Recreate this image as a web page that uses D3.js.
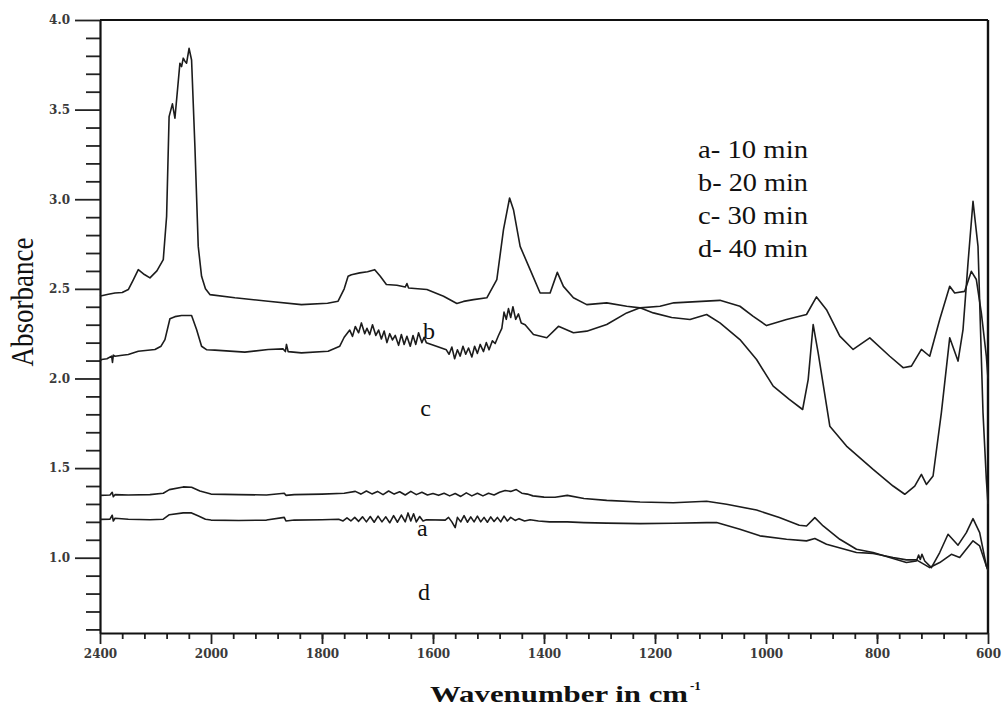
<!DOCTYPE html>
<html>
<head>
<meta charset="utf-8">
<script src="https://cdn.jsdelivr.net/npm/d3@7"></script>
<style>
  body { margin: 0; background: #fff; }
  svg { display: block; }
</style>
</head>
<body>
<svg id="mainSVG" width="1003" height="706"></svg>
<script>
// spectra: [wavenumber, absorbance]
var spectrumTop = [
  [2400,2.46],[2394,2.462],[2370,2.47],[2346,2.477],[2320,2.48],[2298,2.496],[2280,2.55],[2262,2.607],
  [2240,2.58],[2220,2.561],[2195,2.60],[2172,2.663],[2160,2.904],[2151,3.461],[2139,3.532],[2130,3.452],
  [2112,3.759],[2106,3.74],[2100,3.787],[2094,3.77],[2088,3.759],[2079,3.842],[2070,3.777],[2058,3.294],
  [2046,2.737],[2034,2.570],[2020,2.50],[2004,2.468],[1957,2.450],[1897,2.431],[1837,2.412],[1790,2.42],
  [1771,2.431],[1760,2.50],[1753,2.570],[1747,2.579],[1732,2.589],[1718,2.595],[1705,2.607],[1695,2.57],
  [1684,2.524],[1665,2.52],[1650,2.51],[1647,2.53],[1644,2.505],[1611,2.496],[1581,2.459],[1557,2.418],
  [1545,2.43],[1527,2.440],[1503,2.450],[1485,2.552],[1473,2.830],[1462,3.007],[1455,2.942],[1443,2.737],
  [1425,2.607],[1407,2.477],[1389,2.477],[1376,2.592],[1365,2.514],[1347,2.450],[1323,2.412],[1287,2.422],
  [1251,2.403],[1227,2.394],[1203,2.366],[1170,2.34],[1137,2.329],[1107,2.357],[1083,2.310],[1047,2.217],
  [1017,2.106],[987,1.957],[958,1.883],[934,1.827],[924,1.994],[915,2.301],[906,2.143],[885,1.734],
  [855,1.623],[807,1.493],[771,1.400],[750,1.354],[732,1.400],[720,1.465],[711,1.409],[699,1.456],
  [684,1.809],[669,2.227],[654,2.097],[645,2.273],[636,2.645],[627,2.988],[618,2.737],[609,1.809],
  [603,1.437],[600,1.30]
];

var spectrumB = [
  [2400,2.10],[2394,2.106],[2375,2.11],[2358,2.125],[2355,2.09],[2352,2.13],[2346,2.124],[2320,2.13],
  [2298,2.134],[2262,2.152],[2202,2.162],[2180,2.18],[2166,2.217],[2148,2.333],[2130,2.345],[2106,2.351],
  [2070,2.351],[2052,2.273],[2034,2.180],[2015,2.16],[1993,2.158],[1939,2.147],[1897,2.162],[1870,2.165],
  [1866,2.15],[1864,2.19],[1861,2.15],[1837,2.143],[1789,2.152],[1768,2.180],[1760,2.23],
  [1750,2.27],[1745,2.235],[1740,2.29],[1734,2.255],[1729,2.31],[1723,2.25],[1719,2.28],[1714,2.245],
  [1709,2.3],[1703,2.24],[1698,2.27],[1693,2.22],[1688,2.265],[1683,2.2],[1678,2.25],[1673,2.215],
  [1668,2.24],[1662,2.185],[1657,2.245],[1652,2.19],[1647,2.235],[1641,2.18],[1636,2.24],[1631,2.19],
  [1626,2.255],[1620,2.2],[1616,2.23],[1612,2.2],
  [1590,2.175],[1576,2.16],[1571,2.135],[1566,2.175],[1561,2.11],[1556,2.16],[1551,2.125],[1546,2.18],
  [1541,2.135],[1536,2.17],[1530,2.12],[1525,2.18],[1520,2.14],[1515,2.19],[1509,2.15],[1504,2.2],
  [1499,2.16],[1493,2.21],[1488,2.195],[1482,2.24],[1476,2.28],[1472,2.37],[1468,2.33],[1464,2.39],
  [1460,2.34],[1456,2.40],[1451,2.33],[1446,2.36],[1441,2.31],[1434,2.30],[1419,2.245],[1395,2.227],
  [1374,2.291],[1347,2.255],[1323,2.264],[1287,2.301],[1251,2.366],[1227,2.394],[1191,2.403],[1166,2.422],
  [1083,2.436],[1047,2.403],[1023,2.347],[999,2.295],[963,2.329],[927,2.357],[909,2.455],[891,2.384],
  [867,2.236],[843,2.162],[813,2.227],[777,2.124],[753,2.060],[738,2.069],[720,2.162],[705,2.124],
  [687,2.329],[669,2.514],[660,2.477],[642,2.486],[630,2.598],[621,2.552],[612,2.366],[603,2.124],[600,2.0]
];

var spectrumC = [
  [2400,1.348],[2364,1.35],[2356,1.365],[2352,1.34],[2346,1.352],[2298,1.35],[2220,1.352],[2172,1.36],
  [2150,1.38],[2100,1.395],[2070,1.393],[2040,1.372],[2000,1.355],[1950,1.352],[1900,1.35],[1868,1.36],
  [1865,1.348],[1850,1.352],[1800,1.355],[1760,1.36],[1740,1.37],[1730,1.355],[1720,1.372],[1710,1.356],
  [1700,1.37],[1690,1.352],[1680,1.372],[1670,1.355],[1660,1.368],[1650,1.35],[1640,1.37],[1630,1.352],
  [1620,1.365],[1610,1.35],[1600,1.358],[1590,1.348],[1580,1.36],[1570,1.345],[1560,1.358],[1550,1.342],
  [1540,1.362],[1530,1.345],[1520,1.36],[1510,1.345],[1500,1.36],[1490,1.35],[1480,1.365],[1470,1.375],
  [1460,1.37],[1450,1.38],[1440,1.36],[1430,1.355],[1420,1.345],[1400,1.338],[1380,1.337],[1358,1.348],
  [1328,1.330],[1287,1.320],[1227,1.311],[1167,1.307],[1107,1.315],[1071,1.298],[1017,1.266],[976,1.224],
  [940,1.181],[927,1.177],[912,1.224],[897,1.177],[867,1.103],[837,1.047],[807,1.029],[777,1.001],
  [747,0.973],[729,0.982],[725,1.015],[722,0.99],[719,1.019],[714,0.982],[702,0.945],[687,1.029],
  [672,1.131],[654,1.070],[639,1.140],[627,1.218],[615,1.140],[603,0.954],[600,0.93]
];

var spectrumD = [
  [2400,1.214],[2364,1.215],[2356,1.237],[2352,1.205],[2346,1.22],[2298,1.215],[2220,1.212],[2172,1.215],
  [2150,1.24],[2100,1.25],[2070,1.25],[2045,1.233],[2020,1.215],[2000,1.21],[1950,1.208],[1900,1.21],
  [1868,1.225],[1865,1.205],[1850,1.21],[1800,1.212],[1770,1.215],[1762,1.205],[1755,1.222],[1748,1.205],
  [1741,1.225],[1734,1.203],[1727,1.228],[1720,1.2],[1713,1.23],[1706,1.198],[1699,1.232],[1692,1.2],
  [1685,1.228],[1678,1.195],[1671,1.235],[1664,1.198],[1657,1.238],[1650,1.2],[1645,1.25],[1640,1.205],
  [1635,1.245],[1630,1.2],[1624,1.23],[1618,1.205],[1612,1.212],[1578,1.21],[1572,1.225],[1566,1.2],
  [1560,1.168],[1556,1.225],[1550,1.2],[1544,1.235],[1538,1.198],[1532,1.228],[1526,1.2],[1520,1.232],
  [1514,1.2],[1508,1.225],[1502,1.198],[1496,1.228],[1490,1.202],[1484,1.225],[1478,1.2],[1472,1.232],
  [1466,1.205],[1460,1.225],[1452,1.208],[1445,1.218],[1435,1.205],[1425,1.212],[1410,1.205],[1390,1.2],
  [1358,1.2],[1328,1.196],[1287,1.193],[1227,1.19],[1167,1.192],[1107,1.196],[1089,1.196],[1047,1.159],
  [1011,1.122],[963,1.103],[927,1.094],[912,1.107],[891,1.075],[837,1.029],[807,1.024],[771,1.001],
  [747,0.988],[729,0.988],[705,0.945],[687,0.973],[666,1.019],[651,1.001],[627,1.094],[615,1.066],
  [603,0.954],[600,0.93]
];

var xMajorTicks = [2400, 2000, 1800, 1600, 1400, 1200, 1000, 800, 600];
var xMinorTicks = [2320, 2240, 2160, 2080].concat(d3.range(1960, 600, -40));
var yMajorTicks = [1.0, 1.5, 2.0, 2.5, 3.0, 3.5, 4.0];
var yMinorTicks = [0.6, 0.7, 0.8, 0.9, 1.1, 1.2, 1.3, 1.4, 1.6, 1.7, 1.8, 1.9, 2.1, 2.2, 2.3, 2.4,
                   2.6, 2.7, 2.8, 2.9, 3.1, 3.2, 3.3, 3.4, 3.6, 3.7, 3.8, 3.9];

var legendLabels = ['a- 10 min', 'b- 20 min', 'c- 30 min', 'd- 40 min'];
var curveLabels = [
  {t: 'b', wn: 1618, v: 2.223},
  {t: 'c', wn: 1623, v: 1.788},
  {t: 'a', wn: 1629, v: 1.12},
  {t: 'd', wn: 1627, v: 0.763}
];

var svg = d3.select('#mainSVG');

// x axis changes scale at 2000 cm-1, like the instrument plot
var x = d3.scaleLinear().domain([2400, 2000, 600]).range([100, 211, 988]);
var y = d3.scaleLinear().domain([0.58, 4.0]).range([633, 20]);

var tickFont = 'DejaVu Serif';

// minor ticks first
svg.append('g')
  .attr('transform', 'translate(0,633)')
  .call(d3.axisBottom(x).tickValues(xMinorTicks).tickSize(6).tickSizeOuter(0).tickFormat(''))
  .call(function(g) { g.select('.domain').remove(); });

svg.append('g')
  .attr('transform', 'translate(100,0)')
  .call(d3.axisLeft(y).tickValues(yMinorTicks).tickSize(14).tickSizeOuter(0).tickFormat(''))
  .call(function(g) { g.select('.domain').remove(); });

var xAxis = svg.append('g')
  .attr('transform', 'translate(0,633)')
  .call(d3.axisBottom(x).tickValues(xMajorTicks).tickSize(11).tickSizeOuter(0).tickPadding(5).tickFormat(d3.format('d')));

var yAxis = svg.append('g')
  .attr('transform', 'translate(100,0)')
  .call(d3.axisLeft(y).tickValues(yMajorTicks).tickSize(25).tickSizeOuter(0).tickPadding(5).tickFormat(d3.format('.1f')));

svg.selectAll('.tick line').attr('stroke', '#222').attr('stroke-width', 1.8);
svg.selectAll('.domain').attr('stroke', '#111').attr('stroke-width', 2.2);
svg.selectAll('.tick text')
  .attr('font-family', tickFont)
  .attr('font-weight', 'bold')
  .attr('font-size', 12)
  .attr('fill', '#3a3a3a');

// frame: top and right edges
svg.append('line')
  .attr('x1', x(2400)).attr('x2', x(600)).attr('y1', y(4.0)).attr('y2', y(4.0))
  .attr('stroke', '#111').attr('stroke-width', 2);
svg.append('line')
  .attr('x1', x(600)).attr('x2', x(600)).attr('y1', y(4.0)).attr('y2', y(0.58))
  .attr('stroke', '#111').attr('stroke-width', 2.4);

var line = d3.line()
  .x(function(d) { return x(d[0]); })
  .y(function(d) { return y(d[1]); });

[spectrumTop, spectrumB, spectrumC, spectrumD].forEach(function(s) {
  svg.append('path')
    .datum(s)
    .attr('d', line)
    .attr('fill', 'none')
    .attr('stroke', '#1c1c1c')
    .attr('stroke-width', 1.6)
    .attr('stroke-linejoin', 'round');
});

// letters next to the traces
svg.selectAll('.clabel')
  .data(curveLabels)
  .enter().append('text')
  .attr('class', 'clabel')
  .attr('x', function(d) { return x(d.wn); })
  .attr('y', function(d) { return y(d.v); })
  .attr('font-family', 'Liberation Serif')
  .attr('font-size', 24)
  .attr('fill', '#111')
  .text(function(d) { return d.t; });

// legend
svg.selectAll('.legend')
  .data(legendLabels)
  .enter().append('text')
  .attr('class', 'legend')
  .attr('x', 698)
  .attr('y', function(d, i) { return 158 + i * 33; })
  .attr('font-family', 'Liberation Serif')
  .attr('font-size', 25)
  .attr('textLength', 110)
  .attr('lengthAdjust', 'spacingAndGlyphs')
  .attr('fill', '#111')
  .text(function(d) { return d; });

// axis titles
svg.append('text')
  .attr('transform', 'translate(33,302) rotate(-90)')
  .attr('text-anchor', 'middle')
  .attr('font-family', 'Liberation Serif')
  .attr('font-size', 32)
  .attr('textLength', 129)
  .attr('lengthAdjust', 'spacingAndGlyphs')
  .attr('fill', '#111')
  .text('Absorbance');

svg.append('text')
  .attr('x', 430)
  .attr('y', 702)
  .attr('font-family', 'Liberation Serif')
  .attr('font-weight', 'bold')
  .attr('font-size', 24)
  .attr('textLength', 258)
  .attr('lengthAdjust', 'spacingAndGlyphs')
  .attr('fill', '#111')
  .text('Wavenumber in cm');

svg.append('text')
  .attr('x', 690)
  .attr('y', 690)
  .attr('font-family', 'Liberation Serif')
  .attr('font-weight', 'bold')
  .attr('font-size', 13)
  .attr('fill', '#111')
  .text('-1');
</script>
</body>
</html>
